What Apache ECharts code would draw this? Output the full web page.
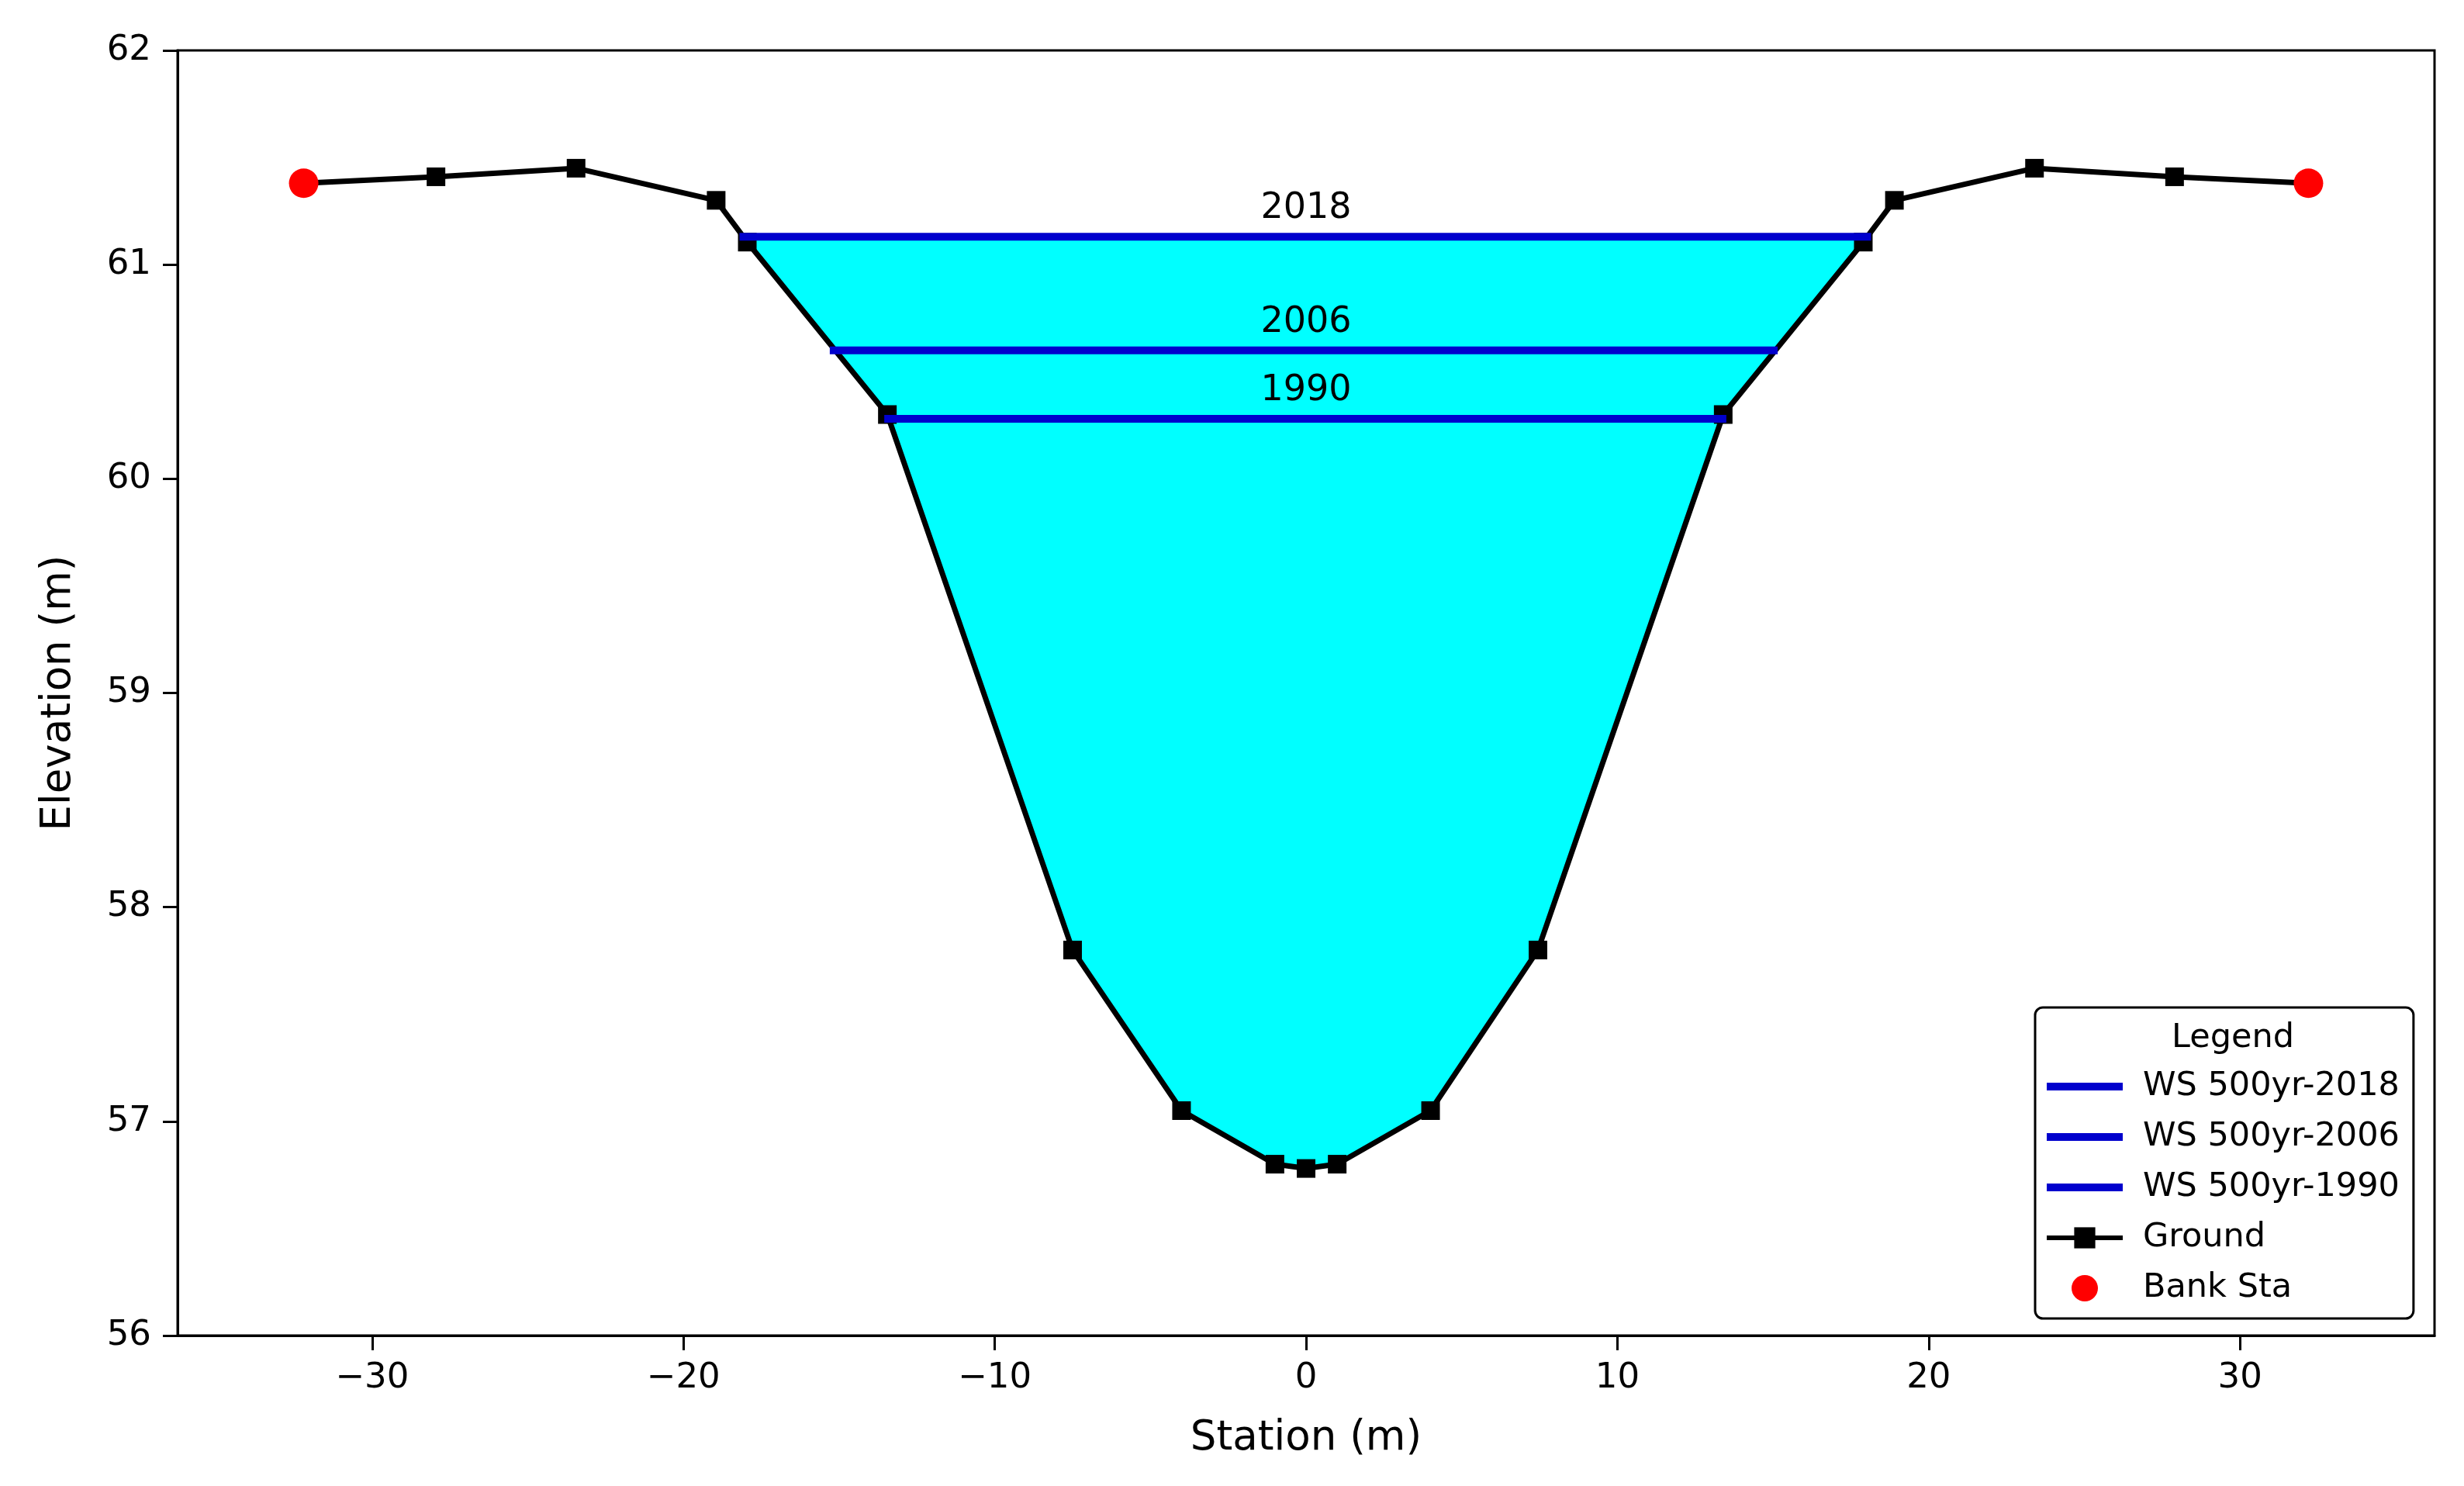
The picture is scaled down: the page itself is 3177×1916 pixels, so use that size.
<!DOCTYPE html>
<html>
<head>
    <meta charset="UTF-8">
    <title>Cross section - water surface</title>
    <script src="https://cdn.jsdelivr.net/npm/echarts@6/dist/echarts.min.js"></script>
    <style>
        html, body { margin: 0; padding: 0; background: #fff; }
    </style>
</head>
<body>
<div id="xs" style="width: 3177px;height:1916px;"></div>

<script type="text/javascript">
    // ground profile (station, elevation)
    var stations = [-32.2, -27.95, -23.45, -18.95, -17.95, -13.45, -7.5, -4.0, -1.0, 0, 1.0, 4.0, 7.45, 13.4, 17.9, 18.9, 23.4, 27.9, 32.2];
    var groundElev = [61.38, 61.41, 61.45, 61.30, 61.105, 60.30, 57.80, 57.05, 56.80, 56.78, 56.80, 57.05, 57.80, 60.30, 61.105, 61.30, 61.45, 61.41, 61.38];

    // bank stations
    var bankSta = [-32.2, 32.2];
    var bankElev = [61.38, 61.38];

    // water surfaces
    var wsNames = ['WS 500yr-2018', 'WS 500yr-2006', 'WS 500yr-1990'];
    var wsYears = ['2018', '2006', '1990'];
    var wsElev = [61.13, 60.60, 60.28];
    var wsLeft = [-18.2, -15.3, -13.55];
    var wsRight = [18.15, 15.15, 13.5];

    var xTicks = [-30, -20, -10, 0, 10, 20, 30];
    var yTicks = [56, 57, 58, 59, 60, 61, 62];

    var FONT = '"DejaVu Sans", "Liberation Sans", sans-serif';

    var xsChart = echarts.init(document.getElementById('xs'));

    var groundData = stations.map(function (s, i) { return [s, groundElev[i]]; });

    // outline of the wetted area under the highest water surface
    var fillPts = [[wsLeft[0], wsElev[0]]];
    groundData.forEach(function (p) {
        if (p[0] > wsLeft[0] && p[0] < wsRight[0]) fillPts.push(p);
    });
    fillPts.push([wsRight[0], wsElev[0]]);

    var wsSeries = wsNames.map(function (name, i) {
        return {
            name: name,
            type: 'line',
            symbol: 'none',
            data: [[wsLeft[i], wsElev[i]], [wsRight[i], wsElev[i]]],
            lineStyle: {color: '#0000cd', width: 10},
            itemStyle: {color: '#0000cd'},
            z: 3
        };
    });

    var option = {
        animation: false,
        backgroundColor: '#fff',
        grid: {
            left: 229, right: 38, top: 65, bottom: 194,
            show: true, borderColor: '#000', borderWidth: 3
        },
        legend: {
            orient: 'vertical',
            left: 2624,
            top: 1299,
            padding: [80, 18, 17, 12],
            backgroundColor: '#fff',
            borderColor: '#000',
            borderWidth: 3,
            borderRadius: 10,
            itemWidth: 98,
            itemHeight: 34,
            itemGap: 21,
            textStyle: {fontSize: 43, fontFamily: FONT, color: '#000', lineHeight: 44, padding: [0, 0, 0, 21]},
            data: [
                {name: wsNames[0], icon: 'path://M0,0H98V10H0Z'},
                {name: wsNames[1], icon: 'path://M0,0H98V10H0Z'},
                {name: wsNames[2], icon: 'path://M0,0H98V10H0Z'},
                {name: 'Ground'},
                {name: 'Bank Sta'}
            ],
            lineStyle: {width: 6}
        },
        graphic: [{
            type: 'text',
            left: 2870 - 70,
            top: 1337 - 20,
            z: 100,
            style: {text: 'Legend', fontSize: 43, fontFamily: FONT, fill: '#000'}
        }],
        xAxis: {
            type: 'value',
            min: -36.25,
            max: 36.25,
            name: 'Station (m)',
            nameLocation: 'middle',
            nameGap: 107,
            nameTextStyle: {fontSize: 53, fontFamily: FONT, color: '#000'},
            axisLine: {onZero: false, lineStyle: {color: '#000', width: 3}},
            axisTick: {customValues: xTicks, length: 19, lineStyle: {color: '#000', width: 3}},
            axisLabel: {
                customValues: xTicks,
                margin: 33,
                fontSize: 45,
                fontFamily: FONT,
                color: '#000',
                formatter: function (v) { return v < 0 ? '\u2212' + Math.abs(v) : String(v); }
            },
            splitLine: {show: false}
        },
        yAxis: {
            type: 'value',
            min: yTicks[0],
            max: yTicks[yTicks.length - 1],
            interval: 1,
            name: 'Elevation (m)',
            nameLocation: 'middle',
            nameGap: 126,
            nameTextStyle: {fontSize: 53, fontFamily: FONT, color: '#000'},
            axisLine: {show: true, onZero: false, lineStyle: {color: '#000', width: 3}},
            axisTick: {show: true, length: 19, lineStyle: {color: '#000', width: 3}},
            axisLabel: {margin: 34, fontSize: 45, fontFamily: FONT, color: '#000'},
            splitLine: {show: false}
        },
        series: [
            {
                name: 'fill',
                type: 'custom',
                silent: true,
                data: [[0, wsElev[0]]],
                z: 1,
                renderItem: function (params, api) {
                    return {
                        type: 'polygon',
                        shape: {points: fillPts.map(function (p) { return api.coord(p); })},
                        style: {fill: '#00ffff'}
                    };
                }
            },
            {
                name: 'Ground',
                type: 'line',
                data: groundData,
                symbol: 'rect',
                symbolSize: 24,
                showAllSymbol: true,
                lineStyle: {color: '#000', width: 7},
                itemStyle: {color: '#000'},
                z: 2
            }
        ].concat(wsSeries).concat([
            {
                name: 'Bank Sta',
                type: 'scatter',
                symbol: 'circle',
                symbolSize: 38,
                data: bankSta.map(function (s, i) { return [s, bankElev[i]]; }),
                itemStyle: {color: '#ff0000', opacity: 1},
                z: 4
            },
            {
                name: 'ws labels',
                type: 'custom',
                silent: true,
                z: 5,
                data: wsElev.map(function (e) { return [0, e]; }),
                renderItem: function (params, api) {
                    var p = api.coord([api.value(0), api.value(1)]);
                    return {
                        type: 'text',
                        x: p[0],
                        y: p[1] - 36,
                        style: {
                            text: wsYears[params.dataIndex],
                            fontSize: 46,
                            fontFamily: FONT,
                            fill: '#000',
                            align: 'center',
                            verticalAlign: 'middle'
                        }
                    };
                }
            }
        ])
    };

    xsChart.setOption(option);
</script>
</body>
</html>
